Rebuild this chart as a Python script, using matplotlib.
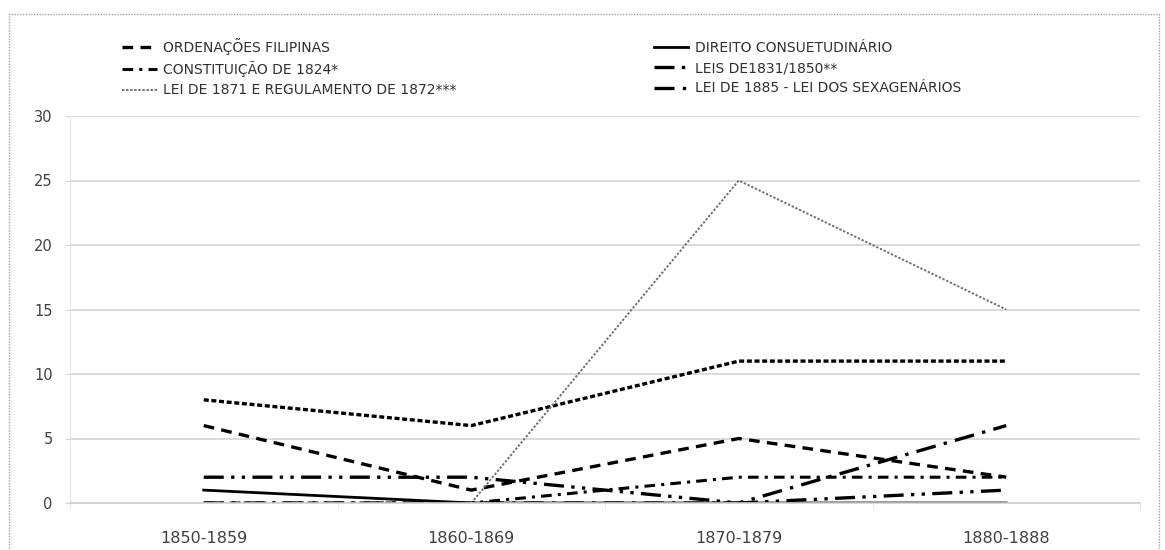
import numpy as np
import matplotlib
matplotlib.use("Agg")
import matplotlib.pyplot as plt
from matplotlib.patches import Rectangle

periods = ["1850-1859", "1860-1869", "1870-1879", "1880-1888"]

ordenacoes = [6, 1, 5, 2]
direito = [1, 0, 0, 0]
constituicao = [0, 0, 2, 2]
leis_1831_1850 = [2, 2, 0, 1]
lei_1871 = [np.nan, 0, 25, 15]
lei_1885 = [0, 0, 0, 6]
sem_legenda = [8, 6, 11, 11]

yticks = [0, 5, 10, 15, 20, 25, 30]

plt.rcParams['font.family'] = ['DejaVu Sans']

fig = plt.figure(figsize=(11.65, 5.5), dpi=100)
ax = fig.add_axes([70 / 1165, 1 - 503 / 550, 1070 / 1165, 387 / 550])

x = np.arange(len(periods))

ax.plot(x, sem_legenda, color='black', lw=2.4, dashes=(1.5, 0.8),
        label='_nolegend_')
h_ord, = ax.plot(x, ordenacoes, color='black', lw=2.4, dashes=(3.2, 2.2))
h_dir, = ax.plot(x, direito, color='black', lw=2.0)
h_con, = ax.plot(x, constituicao, color='black', lw=2.2,
                 dashes=(3.5, 2.0, 1.0, 2.0))
h_leis, = ax.plot(x, leis_1831_1850, color='black', lw=2.4,
                  dashes=(6, 2.2, 1, 2.2, 1, 2.2))
h_1871, = ax.plot(x, lei_1871, color='#707070', lw=1.4, dashes=(1.2, 0.9))
h_1885, = ax.plot(x, lei_1885, color='black', lw=2.4,
                  dashes=(6, 2.5, 1, 2.5))

ax.set_xlim(-0.5, len(periods) - 0.5)
ax.set_ylim(0, 30)
ax.set_yticks(yticks)
ax.set_xticks(x)
ax.set_xticklabels(periods)
ax.set_xticks(np.arange(-0.5, len(periods)), minor=True)

ax.grid(axis='y', color='#d4d4d4', lw=1.2)
ax.set_axisbelow(True)
for side in ['top', 'right']:
    ax.spines[side].set_visible(False)
ax.spines['left'].set_color('#e6e6e6')
ax.spines['bottom'].set_color('#cfcfcf')
ax.spines['bottom'].set_linewidth(1.2)

ax.tick_params(axis='y', length=3.5, color='#d4d4d4', pad=9,
               labelsize=10.5, labelcolor='#404040')
ax.tick_params(axis='x', which='major', length=0, pad=20,
               labelsize=11.5, labelcolor='#404040')
ax.tick_params(axis='x', which='minor', length=4, color='#e0e0e0')

handles = [h_ord, h_con, h_1871, h_dir, h_leis, h_1885]
labels = ["ORDENAÇÕES FILIPINAS", "CONSTITUIÇÃO DE 1824*",
          "LEI DE 1871 E REGULAMENTO DE 1872***",
          "DIREITO CONSUETUDINÁRIO", "LEIS DE1831/1850**",
          "LEI DE 1885 - LEI DOS SEXAGENÁRIOS"]
fig.legend(handles, labels, ncol=2, loc='upper left',
           bbox_to_anchor=(122 / 1165, 1 - 38 / 550), frameon=False,
           fontsize=10, labelcolor='#303030', handlelength=2.5,
           handletextpad=0.45, columnspacing=14.2, borderpad=0,
           borderaxespad=0, labelspacing=0.45)

# dotted frame around the chart area
fig.patches.append(Rectangle((9 / 1165, -0.05), 1150 / 1165, 1.05 - 14 / 550,
                             transform=fig.transFigure, fill=False,
                             edgecolor='#a0a0a0', lw=1.0, ls=(0, (1, 1))))

fig.savefig("out.png", dpi=100)
